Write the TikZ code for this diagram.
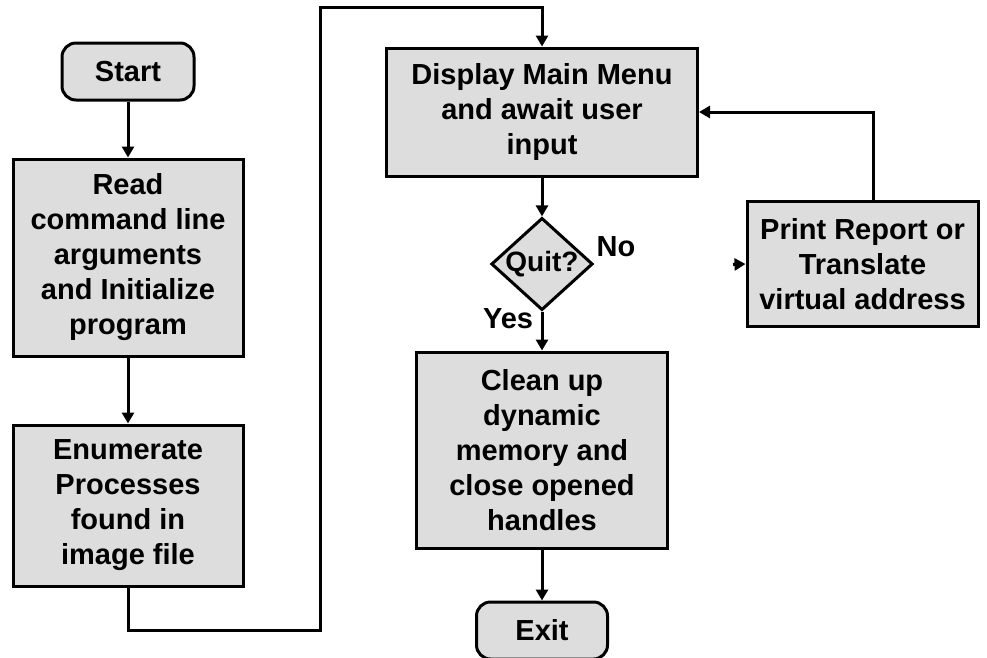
\documentclass[tikz,border=0pt]{standalone}
\usepackage{fontspec}
\setmainfont{Liberation Sans}
\usetikzlibrary{arrows.meta}
\usetikzlibrary{shapes.geometric}
\usetikzlibrary{positioning}
\definecolor{boxgray}{RGB}{221,221,221}

\begin{document}
\begin{tikzpicture}[x = 1pt, y = -1pt, on grid, line width = 3pt, font = \bfseries\fontsize{29}{35}\selectfont, proc/.style = {rectangle, draw, fill = boxgray, align = center, inner sep = 0pt}, term/.style = {proc, rounded corners = 14pt, minimum width = 132pt, minimum height = 57pt}, decide/.style = {diamond, draw, fill = boxgray, inner sep = 0pt, aspect = 1.1, minimum width = 97pt, minimum height = 88pt, font = \bfseries\fontsize{28}{30}\selectfont}, flow/.style = {-{Triangle[length = 11pt, width = 12pt]}}]
	\useasboundingbox (0,0) rectangle (987,657);
	\node[term] (start) at (128,71.5) {Start};
	\node[proc, minimum width = 230pt, minimum height = 197pt] (read) [below = 186pt of start] {Read\\command line\\arguments\\and Initialize\\program};
	\node[proc, minimum width = 230pt, minimum height = 161pt] (enum) [below = 248pt of read] {Enumerate\\Processes\\found in\\image file};
	\node[proc, minimum width = 311pt, minimum height = 128pt] (display) at (542,112) {Display Main Menu\\and await user\\input};
	\node[decide] (quit) [below = 152pt of display] {Quit?};
	\node[proc, minimum width = 251pt, minimum height = 196pt] (clean) [below = 186pt of quit] {Clean up\\dynamic\\memory and\\close opened\\handles};
	\node[term, minimum width = 131pt] (exit) [below = 180.5pt of clean] {Exit};
	\node[proc, minimum width = 231pt, minimum height = 125pt] (print) [right = 320.5pt of quit] {Print Report or\\Translate\\virtual address};
	\node (no) [above right = 17pt and 74pt of quit] {No};
	\node (yes) [below left = 55pt and 34pt of quit] {Yes};
	\coordinate (low) at (320,630);
	\coordinate (high) at (320,7);
	\coordinate (back) at (873,112);
	\coordinate (nofree) at (733,264.5);
	\draw[flow] (start) -- (read);
	\draw[flow] (read) -- (enum);
	\draw[flow] (enum.south) |- (low) -- (high) -| (display.north);
	\draw[flow] (display) -- (quit);
	\draw[flow] (quit) -- (clean);
	\draw[flow] (clean) -- (exit);
	\draw[flow] (nofree) -- (print.west);
	\draw[flow] (back |- print.north) -- (back) -- (display.east);
\end{tikzpicture}
\end{document}
